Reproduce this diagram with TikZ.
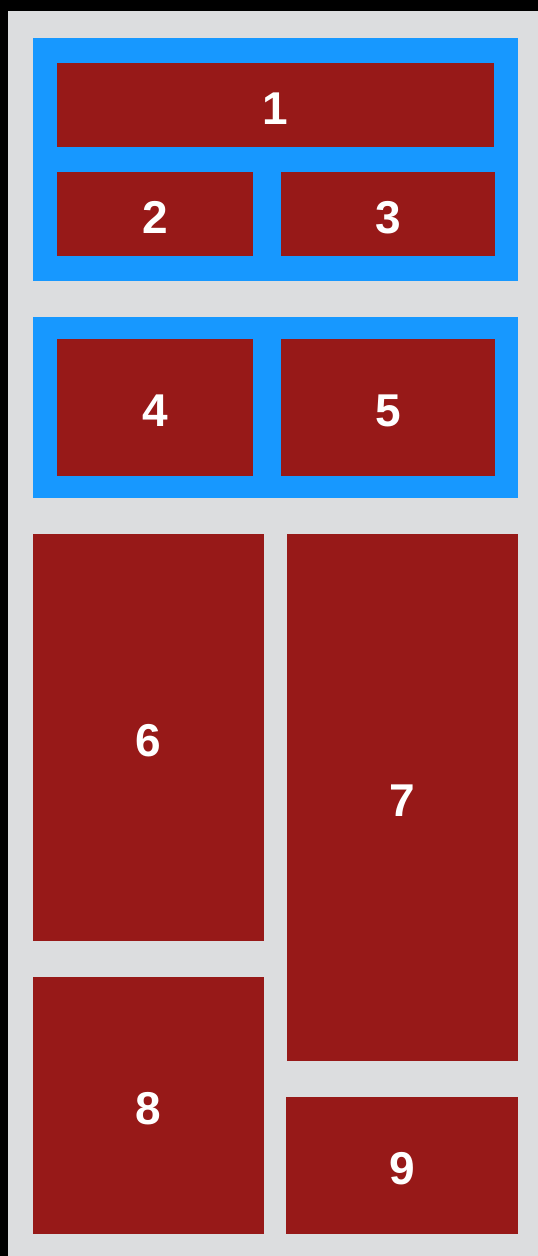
\documentclass[tikz,border=0pt]{standalone}
\usepackage{fontspec}
\setmainfont{Liberation Sans}
\definecolor{bgblack}{RGB}{0,0,0}
\definecolor{bggray}{RGB}{220,221,223}
\definecolor{framblue}{RGB}{23,152,255}
\definecolor{cellred}{RGB}{151,25,24}
\begin{document}
\begin{tikzpicture}[x=1pt,y=1pt,
  cell/.style={fill=cellred,draw=none,inner sep=0pt,text=white,text height=38pt,text depth=0pt,font=\fontsize{46}{54}\selectfont\bfseries},
  frame/.style={fill=framblue,draw=none,inner sep=0pt}]
\useasboundingbox (0,0) rectangle (538,-1256);
\fill[bgblack] (0,0) rectangle (538,-1256);
\fill[bggray] (8,-11) rectangle (538,-1256);
\node[frame,minimum width=485pt,minimum height=243pt] (fa) at (275.5,-159.5) {};
\node[frame,minimum width=485pt,minimum height=181pt] (fb) at (275.5,-407.5) {};
\node[cell,minimum width=437pt,minimum height=84pt] (c1) at (275.5,-105) {1};
\node[cell,minimum width=196pt,minimum height=84pt] (c2) at (155,-214) {2};
\node[cell,minimum width=214pt,minimum height=84pt] (c3) at (388,-214) {3};
\node[cell,minimum width=196pt,minimum height=137pt] (c4) at (155,-407.5) {4};
\node[cell,minimum width=214pt,minimum height=137pt] (c5) at (388,-407.5) {5};
\node[cell,minimum width=231pt,minimum height=407pt] (c6) at (148.5,-737.5) {6};
\node[cell,minimum width=231pt,minimum height=527pt] (c7) at (402.5,-797.5) {7};
\node[cell,minimum width=231pt,minimum height=257pt] (c8) at (148.5,-1105.5) {8};
\node[cell,minimum width=232pt,minimum height=137pt] (c9) at (402,-1165.5) {9};
\end{tikzpicture}
\end{document}
